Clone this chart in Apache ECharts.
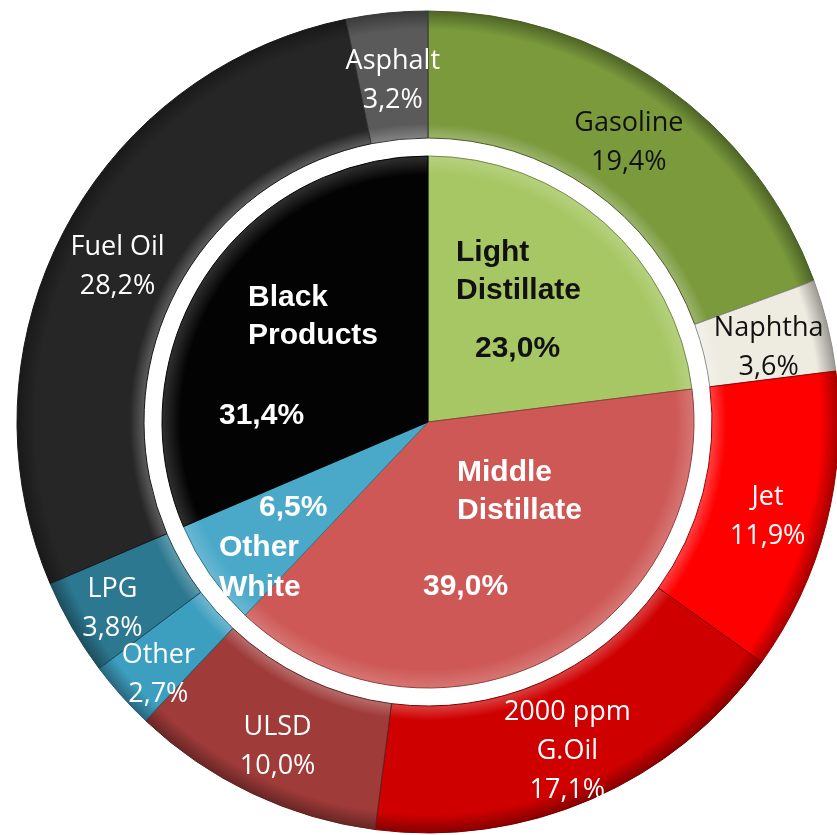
<!DOCTYPE html>
<html>
<head>
<meta charset="utf-8">
<script src="https://cdn.jsdelivr.net/npm/echarts@6/dist/echarts.min.js"></script>
<style>
  html, body { margin: 0; padding: 0; background: #ffffff; }
  #chart { width: 837px; height: 835px; }
</style>
</head>
<body>
<div id="chart"></div>
<script>
// Product groups (inner pie), clockwise from 12 o'clock
const groupNames  = ['Light Distillate', 'Middle Distillate', 'Other White', 'Black Products'];
const groupValues = [23.0, 39.0, 6.5, 31.4];

// Individual products (outer ring), clockwise from 12 o'clock
const productNames  = ['Gasoline', 'Naphtha', 'Jet', '2000 ppm G.Oil', 'ULSD', 'Other', 'LPG', 'Fuel Oil', 'Asphalt'];
const productLines  = ['Gasoline', 'Naphtha', 'Jet', '2000 ppm\nG.Oil', 'ULSD', 'Other', 'LPG', 'Fuel Oil', 'Asphalt'];
const productValues = [19.4, 3.6, 11.9, 17.1, 10.0, 2.7, 3.8, 28.2, 3.2];

// Colours
const groupColors   = ['#a6c763', '#cd5855', '#4aa9c9', '#030303'];
const groupText     = ['#111111', '#ffffff', '#ffffff', '#ffffff'];
const productColors = ['#7a9a3c', '#eeece1', '#ff0000', '#cf0000', '#9f3b39', '#3d9fc0', '#2c7890', '#262626', '#5a5a5a'];
const productText   = ['#111111', '#111111', '#ffffff', '#ffffff', '#ffffff', '#ffffff', '#ffffff', '#ffffff', '#ffffff'];

// Geometry of the chart
const CX = 428, CY = 422;
const PIE_R = 266, RING_IN = 284, RING_OUT = 411;

const pct = v => v.toFixed(1).replace('.', ',') + '%';

function shade(hex, f) {
  const n = parseInt(hex.slice(1), 16);
  let r = (n >> 16) & 255, g = (n >> 8) & 255, b = n & 255;
  const mix = (c) => f >= 0 ? Math.round(c + (255 - c) * f) : Math.round(c * (1 + f));
  return 'rgb(' + mix(r) + ',' + mix(g) + ',' + mix(b) + ')';
}

// Bevelled look: lighter rim on the inner edge, darker rim on the outer edge
function ringFill(c) {
  const a = RING_IN / RING_OUT;
  return new echarts.graphic.RadialGradient(CX, CY, RING_OUT, [
    { offset: 0, color: shade(c, 0.25) },
    { offset: a, color: shade(c, 0.25) },
    { offset: a + 0.035, color: c },
    { offset: 0.955, color: c },
    { offset: 1, color: shade(c, -0.35) }
  ], true);
}
function pieFill(c) {
  return new echarts.graphic.RadialGradient(CX, CY, PIE_R, [
    { offset: 0, color: c },
    { offset: 0.93, color: c },
    { offset: 1, color: shade(c, 0.18) }
  ], true);
}

// Small nudges of the outer labels away from the slice middle
const outerNudge = [
  { dx: 0, dy: 8 }, { dx: 0, dy: 8 }, { dx: 0, dy: 8 }, { dx: 0, dy: 8 }, { dx: 0, dy: 8 },
  { dx: -8, dy: 20 }, { dx: -12, dy: 12 }, { dx: 0, dy: 8 }, { dx: 0, dy: 8 }
];

// Inner label blocks: placement of the top-left corner relative to the pie centre
const innerPlace = [
  { dx: 28,   dy: -188 },
  { dx: -5,   dy: 32 },
  { dx: -209, dy: 67 },
  { dx: -209, dy: -143 }
];
const innerFont = { fontFamily: 'Liberation Sans, Arial, sans-serif', fontWeight: 'bold', fontSize: 30 };
const innerLabels = [
  {
    text: '{n|Light}\n{n|Distillate}\n{v|' + pct(groupValues[0]) + '}',
    rich: { n: { lineHeight: 38 }, v: { lineHeight: 78, padding: [0, 0, 0, 19] } }
  },
  {
    text: '{n|Middle}\n{n|Distillate}\n{v|' + pct(groupValues[1]) + '}',
    rich: { n: { lineHeight: 38, padding: [0, 0, 0, 34] }, v: { lineHeight: 114 } }
  },
  {
    text: '{v|' + pct(groupValues[2]) + '}\n{n|Other}\n{m|White}',
    rich: { v: { lineHeight: 38, padding: [0, 0, 0, 40] }, n: { lineHeight: 42 }, m: { lineHeight: 38 } }
  },
  {
    text: '{n|Black}\n{n|Products}\n{v|' + pct(groupValues[3]) + '}',
    rich: { n: { lineHeight: 38, padding: [0, 0, 0, 29] }, v: { lineHeight: 122 } }
  }
];

function richWithFont(rich, color) {
  const out = {};
  Object.keys(rich).forEach(k => { out[k] = Object.assign({}, innerFont, { color: color }, rich[k]); });
  return out;
}

const innerData = groupNames.map((name, i) => ({
  name: name,
  value: groupValues[i],
  itemStyle: { color: pieFill(groupColors[i]), borderColor: shade(groupColors[i], -0.3), borderWidth: 1 },
  label: {
    formatter: innerLabels[i].text,
    rich: richWithFont(innerLabels[i].rich, groupText[i])
  }
}));

const outerData = productNames.map((name, i) => ({
  name: name,
  value: productValues[i],
  itemStyle: { color: ringFill(productColors[i]), borderColor: shade(productColors[i], -0.4), borderWidth: 1 },
  label: {
    formatter: productLines[i] + '\n' + pct(productValues[i]),
    color: productText[i]
  }
}));

const chart = echarts.init(document.getElementById('chart'), null, { renderer: 'canvas' });
chart.setOption({
  backgroundColor: '#ffffff',
  animation: false,
  series: [
    {
      name: 'Products',
      type: 'pie',
      center: [CX, CY],
      radius: [RING_IN, RING_OUT],
      startAngle: 90,
      clockwise: true,
      silent: true,
      avoidLabelOverlap: false,
      label: {
        show: true,
        position: 'inside',
        rotate: 0,
        fontFamily: 'Open Sans, sans-serif',
        fontSize: 27,
        lineHeight: 39,
        align: 'center'
      },
      labelLine: { show: false },
      labelLayout: p => ({
        dx: outerNudge[p.dataIndex].dx,
        dy: outerNudge[p.dataIndex].dy,
        hideOverlap: false
      }),
      data: outerData
    },
    {
      name: 'Groups',
      type: 'pie',
      center: [CX, CY],
      radius: [0, PIE_R],
      startAngle: 90,
      clockwise: true,
      silent: true,
      avoidLabelOverlap: false,
      label: { show: true, position: 'inside', rotate: 0 },
      labelLine: { show: false },
      labelLayout: p => ({
        x: CX + innerPlace[p.dataIndex].dx,
        y: CY + innerPlace[p.dataIndex].dy,
        align: 'left',
        verticalAlign: 'top',
        hideOverlap: false
      }),
      data: innerData
    }
  ]
});
</script>
</body>
</html>
